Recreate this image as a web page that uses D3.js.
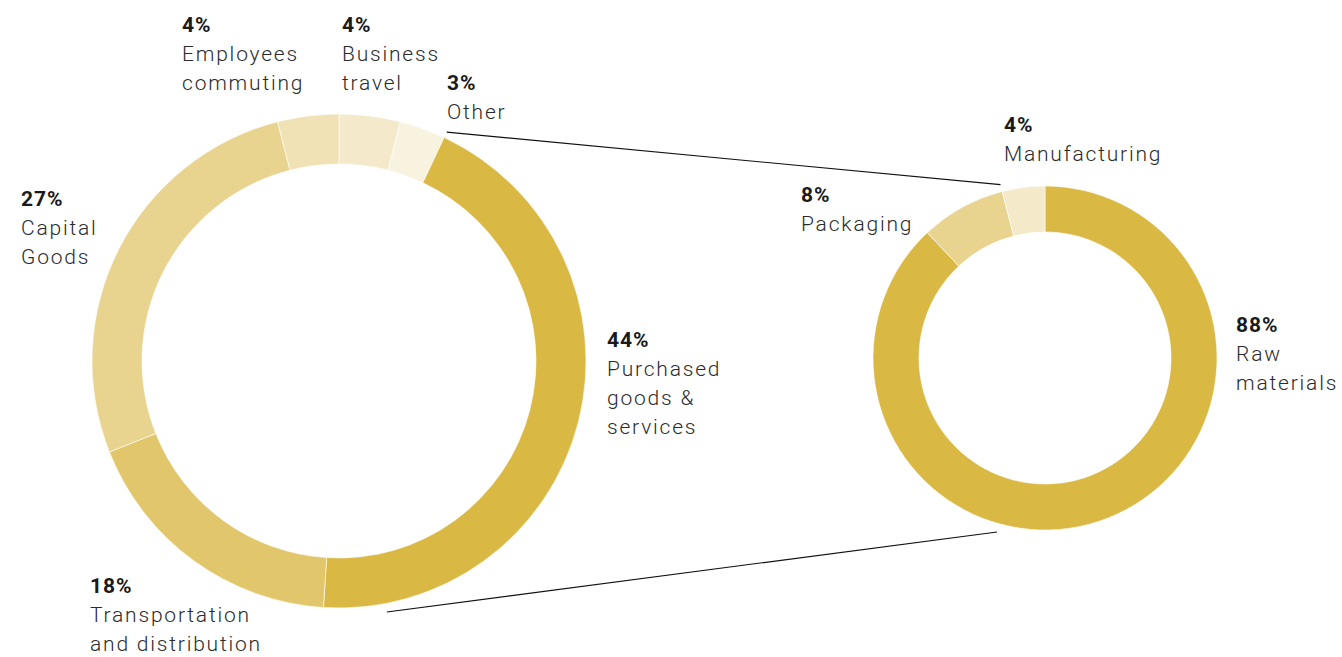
<!DOCTYPE html>
<html>
<head>
<meta charset="utf-8">
<script src="https://cdn.jsdelivr.net/npm/d3@7"></script>
<style>
  html, body { margin: 0; padding: 0; background: #fff; }
  svg { display: block; }
  .pct { font-family: Roboto, "Open Sans", sans-serif; font-weight: 700; font-size: 21px; fill: #1a1a1a; letter-spacing: 1px; }
  .name { font-family: Roboto, "Open Sans", sans-serif; font-weight: 300; font-size: 21px; fill: #2b2b2b; letter-spacing: 1.8px; }
</style>
</head>
<body>
<svg id="chart" width="1342" height="657"></svg>
<script>
// Scope 3 emissions breakdown (clockwise from 12 o'clock)
const scopeCategories = ["Business travel", "Other", "Purchased goods & services", "Transportation and distribution", "Capital Goods", "Employees commuting"];
const scopeValues     = [4, 3, 44, 18, 27, 4];
const scopeColors     = ["#f4eacb", "#f8f3df", "#d9b843", "#e1c66b", "#e8d38f", "#f0e2b5"];

// Purchased goods & services detail
const detailCategories = ["Raw materials", "Packaging", "Manufacturing"];
const detailValues     = [88, 8, 4];
const detailColors     = ["#d9b843", "#e8d38f", "#f4e9c8"];

// Label text lines per slice
const scopeLabels = [
  { lines: ["Business", "travel"], x: 342, y: 32 },
  { lines: ["Other"], x: 447, y: 90 },
  { lines: ["Purchased", "goods &", "services"], x: 607, y: 347 },
  { lines: ["Transportation", "and distribution"], x: 90, y: 593 },
  { lines: ["Capital", "Goods"], x: 21, y: 206 },
  { lines: ["Employees", "commuting"], x: 182, y: 32 }
];
const detailLabels = [
  { lines: ["Raw", "materials"], x: 1236, y: 332 },
  { lines: ["Packaging"], x: 801, y: 202 },
  { lines: ["Manufacturing"], x: 1004, y: 132 }
];

const svg = d3.select("#chart");
const lineGap = 29;

const pie = d3.pie().sort(null).value(d => d).startAngle(0).endAngle(2 * Math.PI);

function donut(cx, cy, outer, inner, values, colors) {
  const arcs = pie(values);
  const arc = d3.arc().innerRadius(inner).outerRadius(outer);
  const g = svg.append("g").attr("transform", `translate(${cx},${cy})`);
  g.selectAll("path")
    .data(arcs)
    .join("path")
    .attr("d", arc)
    .attr("fill", (d, i) => colors[i])
    .attr("stroke", "#ffffff")
    .attr("stroke-width", 0.6);
  return arcs;
}

function labels(values, specs) {
  specs.forEach((s, i) => {
    const t = svg.append("g");
    t.append("text").attr("class", "pct").attr("x", s.x).attr("y", s.y).text(values[i] + "%");
    s.lines.forEach((ln, j) => {
      t.append("text").attr("class", "name").attr("x", s.x).attr("y", s.y + lineGap * (j + 1)).text(ln);
    });
  });
}

const left = { cx: 339, cy: 361, outer: 247, inner: 197 };
const right = { cx: 1045, cy: 358, outer: 172, inner: 126 };

const leftArcs = donut(left.cx, left.cy, left.outer, left.inner, scopeValues, scopeColors);
const rightArcs = donut(right.cx, right.cy, right.outer, right.inner, detailValues, detailColors);

// Connector lines linking the purchased-goods slice to the detail donut
function polar(c, r, a) {
  return [c.cx + r * Math.sin(a), c.cy - r * Math.cos(a)];
}
const deg = Math.PI / 180;
const topStart = polar(left, left.outer + 6, leftArcs[2].startAngle);
const topEnd = polar(right, right.outer + 7, rightArcs[2].startAngle);
const botStart = polar(left, left.outer + 8.5, 169.2 * deg);
const botEnd = polar(right, right.outer + 8.5, 195.4 * deg);

svg.append("line")
  .attr("x1", topStart[0]).attr("y1", topStart[1])
  .attr("x2", topEnd[0]).attr("y2", topEnd[1])
  .attr("stroke", "#111").attr("stroke-width", 1.1);
svg.append("line")
  .attr("x1", botStart[0]).attr("y1", botStart[1])
  .attr("x2", botEnd[0]).attr("y2", botEnd[1])
  .attr("stroke", "#111").attr("stroke-width", 1.1);

labels(scopeValues, scopeLabels);
labels(detailValues, detailLabels);
</script>
</body>
</html>
